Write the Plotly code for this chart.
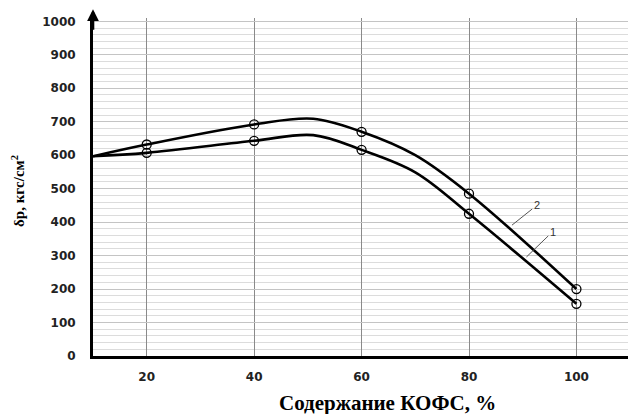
import plotly.graph_objects as go

# Data
x_curve = [10, 20, 40, 51, 60, 70, 80, 100]
y_curve1 = [597, 607, 643, 660, 616, 549, 425, 156]
y_curve2 = [597, 632, 692, 709, 670, 600, 485, 200]

x_points = [20, 40, 60, 80, 100]
y_points1 = [607, 643, 616, 425, 156]
y_points2 = [632, 692, 670, 485, 200]

x_ticks = [20, 40, 60, 80, 100]
y_ticks = [0, 100, 200, 300, 400, 500, 600, 700, 800, 900, 1000]

fig = go.Figure()
for yc in (y_curve1, y_curve2):
    fig.add_trace(go.Scatter(x=x_curve, y=yc, mode="lines",
                             line=dict(color="black", width=2.6, shape="spline", smoothing=1.0),
                             hoverinfo="skip", showlegend=False))
for yp in (y_points1, y_points2):
    fig.add_trace(go.Scatter(x=x_points, y=yp, mode="markers",
                             marker=dict(symbol="circle-open", size=9, color="black",
                                         line=dict(width=1.3, color="black")),
                             showlegend=False))

tickfont = dict(family="DejaVu Sans", size=12, color="#222")
fig.update_layout(
    width=630, height=414,
    margin=dict(l=93, r=2, t=18, b=58),
    plot_bgcolor="white", paper_bgcolor="white",
    xaxis=dict(range=[10, 109.6], tickvals=x_ticks, ticktext=[f"<b>{v}</b>" for v in x_ticks],
               showgrid=True, gridcolor="#8a8a8a", gridwidth=1,
               showline=True, linecolor="black", linewidth=3,
               ticks="outside", ticklen=8, tickcolor="rgba(0,0,0,0)",
               tickfont=tickfont, zeroline=False),
    yaxis=dict(range=[0, 1010], tickvals=y_ticks, ticktext=[f"<b>{v}</b>" for v in y_ticks],
               showgrid=True, gridcolor="#c4c4c4", gridwidth=1,
               minor=dict(dtick=20, showgrid=True, gridcolor="#dcdcdc", gridwidth=1),
               showline=True, linecolor="black", linewidth=3,
               ticks="outside", ticklen=12, tickcolor="rgba(0,0,0,0)",
               tickfont=tickfont, zeroline=False),
)

# axis arrow
fig.add_annotation(x=10, y=1.026, xref="x", yref="paper", text="", showarrow=True,
                   ax=0, ay=22, arrowhead=2, arrowsize=0.9, arrowwidth=2.6,
                   arrowcolor="black", standoff=0)

# curve labels
fig.add_annotation(x=88, y=391, ax=92.6, ay=450, axref="x", ayref="y", xref="x", yref="y",
                   text="2", showarrow=True, arrowhead=0, arrowwidth=1, arrowcolor="#555",
                   font=dict(family="Liberation Sans", size=11, color="#333"), standoff=0)
fig.add_annotation(x=90.7, y=296, ax=95.6, ay=372, axref="x", ayref="y", xref="x", yref="y",
                   text="1", showarrow=True, arrowhead=0, arrowwidth=1, arrowcolor="#555",
                   font=dict(family="Liberation Sans", size=11, color="#333"), standoff=0)

# axis titles
fig.add_annotation(x=(387 - 93) / 535, y=-(403 - 356) / 338, xref="paper", yref="paper",
                   xanchor="center", yanchor="middle",
                   text="<b>Содержание КОФС, %</b>", showarrow=False,
                   font=dict(family="Liberation Serif", size=21, color="black"))
fig.add_annotation(x=(18 - 93) / 535, y=(356 - 191) / 338, xref="paper", yref="paper",
                   xanchor="center", yanchor="middle",
                   text="<b>δр, кгс/см<sup>2</sup></b>", showarrow=False, textangle=-90,
                   font=dict(family="Liberation Serif", size=15, color="black"))

fig.write_html("out.html")
